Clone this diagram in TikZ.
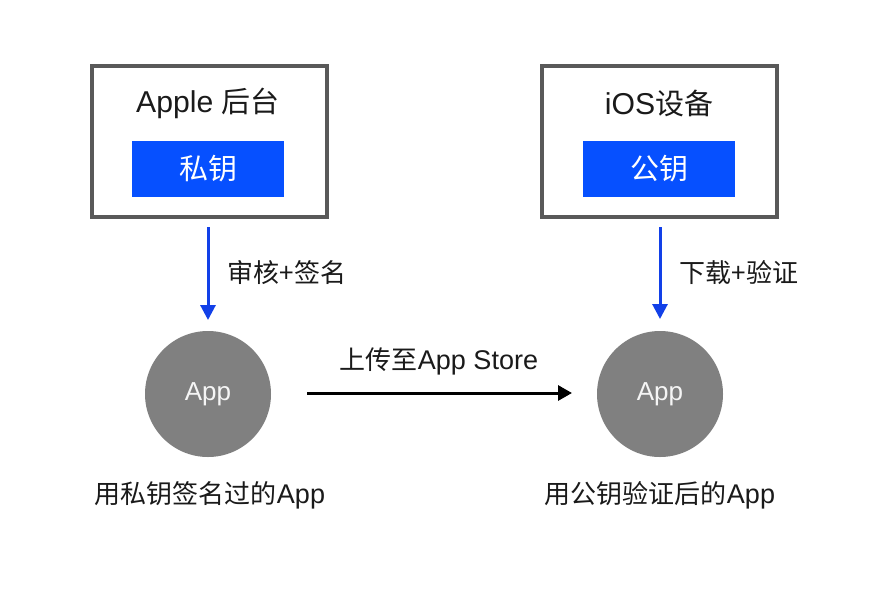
\documentclass[tikz,border=0pt]{standalone}
\usepackage{fontspec}
\setmainfont{Noto Sans CJK SC}[BoldFont={Noto Sans CJK SC}]
\newfontfamily\lat{Liberation Sans}[Scale=1.04]
\usetikzlibrary{arrows.meta}
\definecolor{bluek}{HTML}{0650FF}
\definecolor{bluea}{HTML}{1240E8}
\definecolor{grayc}{HTML}{808080}
\definecolor{frame}{HTML}{595959}
\definecolor{ink}{HTML}{1A1A1A}
\tikzset{
 x=1pt,y=-1pt,
 boxf/.style={draw=frame,line width=4pt,fill=white,minimum width=235pt,minimum height=151pt,inner sep=0,anchor=north west},
 key/.style={fill=bluek,text=white,font=\fontsize{29}{33}\selectfont,minimum width=152pt,minimum height=56pt,inner sep=0},
 circ/.style={circle,fill=grayc,text=white!92!gray,minimum size=126pt,inner sep=0,font=\fontsize{25}{29}\selectfont\lat},
 lab/.style={text=ink,inner sep=0,font=\fontsize{26}{30}\selectfont},
 head/.style={text=ink,inner sep=0,font=\fontsize{29}{33}\selectfont},
 barrow/.style={draw=bluea,line width=3pt,-{Stealth[length=15pt,width=15pt,inset=0pt]}},
 karrow/.style={draw=black,line width=3pt,-{Stealth[length=14pt,width=15pt,inset=0pt]}},
}
\begin{document}
\begin{tikzpicture}
\useasboundingbox (0,0) rectangle (875,592);
\fill[white] (0,0) rectangle (875,592);
\node[boxf] (b1) at (90,64) {};
\node[boxf] (b2) at (540,64) {};
\node[head] (t1) at (208,103.5) {{\lat Apple}\hspace{2pt} 后台};
\node[head] (t2) at (659,103.5) {{\lat iOS}设备};
\node[key] (k1) at (208,169) {私钥};
\node[key] (k2) at (659,169) {公钥};
\node[circ] (c1) at (208,394) {\raisebox{-1.5pt}{App}};
\node[circ] (c2) at (660,394) {\raisebox{-1.5pt}{App}};
\coordinate (a1s) at (208,227);
\coordinate (a1e) at (208,320);
\coordinate (a2s) at (660,227);
\coordinate (a2e) at (660,319);
\coordinate (a3s) at (307,393);
\coordinate (a3e) at (572,393);
\draw[barrow] (a1s) -- (a1e);
\draw[barrow] (a2s) -- (a2e);
\draw[karrow] (a3s) -- (a3e);
\node[lab] (l1) at (287,273) {审核+签名};
\node[lab] (l2) at (739,273) {下载+验证};
\node[lab] (l3) at (439,361) {上传至{\lat App Store}};
\node[lab] (l4) at (210,495) {用私钥签名过的{\lat App}};
\node[lab] (l5) at (660,495) {用公钥验证后的{\lat App}};
\end{tikzpicture}
\end{document}
